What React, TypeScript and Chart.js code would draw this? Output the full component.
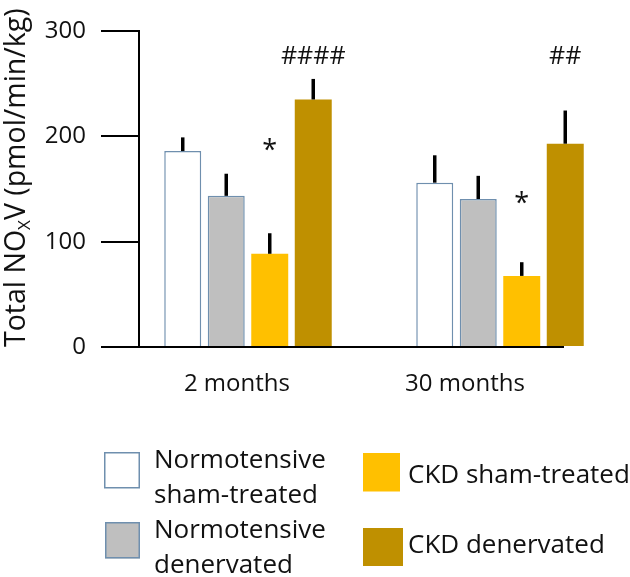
import React, { useEffect, useRef } from "react";
import { Chart, registerables } from "chart.js";

Chart.register(...registerables);

// ---------- data ----------
const CATEGORIES = ["2 months", "30 months"];
const Y_TICKS = [0, 100, 200, 300];

const NORMO_SHAM = [186, 156];
const NORMO_DENERV = [143.5, 140.5];
const CKD_SHAM = [88.5, 67.5];
const CKD_DENERV = [235, 193];

const NORMO_SHAM_ERR = [13, 26];
const NORMO_DENERV_ERR = [21, 22];
const CKD_SHAM_ERR = [19.5, 13];
const CKD_DENERV_ERR = [19.5, 31.5];

const CKD_SHAM_SIG = ["*", "*"];
const CKD_SHAM_SIG_AT = [186, 135];
const CKD_DENERV_SIG = ["####", "##"];
const CKD_DENERV_SIG_AT = [275, 275];

const SERIES_NAMES = [
  ["Normotensive", "sham-treated"],
  ["Normotensive", "denervated"],
  ["CKD sham-treated"],
  ["CKD denervated"],
];

// ---------- styles ----------
const FONT = "'Open Sans', sans-serif";
const OUTLINE = "#6f8fae";

const LEGEND_LAYOUT = [
  { box: [104, 452, 36, 36.5], textX: 154, baselines: [468, 503] },
  { box: [105, 522, 35, 36.5], textX: 154, baselines: [538, 573] },
  { box: [363, 453, 37, 38.5], textX: 408, baselines: [483] },
  { box: [363, 528, 40, 38], textX: 408, baselines: [553] },
];

const errorBarPlugin = {
  id: "errorBars",
  afterDatasetsDraw(chart: any) {
    const ctx = chart.ctx;
    const y = chart.scales.y;
    chart.data.datasets.forEach((ds: any, i: number) => {
      const meta = chart.getDatasetMeta(i);
      meta.data.forEach((el: any, j: number) => {
        const top = y.getPixelForValue(ds.data[j].y + ds.errors[j]);
        ctx.save();
        ctx.strokeStyle = "#000";
        ctx.lineWidth = 3.5;
        ctx.beginPath();
        ctx.moveTo(el.x, el.y);
        ctx.lineTo(el.x, top);
        ctx.stroke();
        ctx.restore();
      });
    });
  },
};

const sigPlugin = {
  id: "sigMarks",
  afterDatasetsDraw(chart: any) {
    const ctx = chart.ctx;
    const y = chart.scales.y;
    chart.data.datasets.forEach((ds: any, i: number) => {
      if (!ds.sig) return;
      const meta = chart.getDatasetMeta(i);
      meta.data.forEach((el: any, j: number) => {
        const txt = ds.sig[j];
        ctx.save();
        ctx.fillStyle = "#111";
        ctx.font = txt === "*" ? `27px ${FONT}` : `25px ${FONT}`;
        ctx.textAlign = "center";
        ctx.textBaseline = "middle";
        ctx.fillText(txt, el.x, y.getPixelForValue(ds.sigAt[j]));
        ctx.restore();
      });
    });
  },
};

const yTitlePlugin = {
  id: "yTitle",
  afterDraw(chart: any) {
    const ctx = chart.ctx;
    ctx.save();
    ctx.translate(25, 347);
    ctx.rotate(-Math.PI / 2);
    ctx.fillStyle = "#111";
    ctx.textAlign = "left";
    ctx.textBaseline = "alphabetic";
    let x = 0;
    ctx.font = `28.5px ${FONT}`;
    ctx.fillText("Total NO", x, 0);
    x += ctx.measureText("Total NO").width;
    ctx.font = `17px ${FONT}`;
    ctx.fillText("X", x, 5);
    x += ctx.measureText("X").width;
    ctx.font = `28.5px ${FONT}`;
    ctx.fillText("V (pmol/min/kg)", x, 0);
    ctx.restore();
  },
};

const legendPlugin = {
  id: "customLegend",
  afterDraw(chart: any) {
    const ctx = chart.ctx;
    chart.data.datasets.forEach((ds: any, i: number) => {
      const L = LEGEND_LAYOUT[i];
      const [bx, by, bw, bh] = L.box;
      ctx.save();
      ctx.fillStyle = ds.backgroundColor;
      ctx.fillRect(bx, by, bw, bh);
      if (ds.borderWidth > 0) {
        ctx.strokeStyle = ds.borderColor;
        ctx.lineWidth = 1.5;
        ctx.strokeRect(bx + 0.75, by + 0.75, bw - 1.5, bh - 1.5);
      }
      ctx.fillStyle = "#111";
      ctx.font = `26px ${FONT}`;
      ctx.textAlign = "left";
      ctx.textBaseline = "alphabetic";
      ds.nameLines.forEach((line: string, k: number) => {
        ctx.fillText(line, L.textX, L.baselines[k]);
      });
      ctx.restore();
    });
  },
};

// x positions (data units) where category labels sit
const LABEL_AT = [-0.044, 0.861];

export default function App() {
  const ref = useRef<HTMLCanvasElement>(null);

  useEffect(() => {
    if (!ref.current) return;
    const mk = (
      values: number[],
      errors: number[],
      names: string[],
      bg: string,
      bw: number,
      extra: any = {}
    ) => ({
      label: names.join(" "),
      nameLines: names,
      data: values.map((v, i) => ({ x: i, y: v })),
      errors,
      backgroundColor: bg,
      borderColor: OUTLINE,
      borderWidth: bw,
      borderSkipped: "start",
      categoryPercentage: 0.763,
      barPercentage: 0.85,
      clip: false,
      ...extra,
    });

    const chart = new Chart(ref.current, {
      type: "bar",
      data: {
        datasets: [
          mk(NORMO_SHAM, NORMO_SHAM_ERR, SERIES_NAMES[0], "#ffffff", 1.5),
          mk(NORMO_DENERV, NORMO_DENERV_ERR, SERIES_NAMES[1], "#bfbfbf", 1.5),
          mk(CKD_SHAM, CKD_SHAM_ERR, SERIES_NAMES[2], "#ffc000", 0, {
            sig: CKD_SHAM_SIG,
            sigAt: CKD_SHAM_SIG_AT,
          }),
          mk(CKD_DENERV, CKD_DENERV_ERR, SERIES_NAMES[3], "#bf9000", 0, {
            sig: CKD_DENERV_SIG,
            sigAt: CKD_DENERV_SIG_AT,
          }),
        ] as any,
      },
      options: {
        animation: false,
        responsive: true,
        maintainAspectRatio: false,
        layout: { padding: { left: 0, right: 67, top: 31, bottom: 0 } },
        plugins: {
          legend: { display: false },
          tooltip: { enabled: false },
          title: { display: false },
        },
        scales: {
          x: {
            type: "linear",
            offset: false,
            min: -0.4325,
            max: 1.25,
            bounds: "data",
            grid: { display: false, drawTicks: false, offset: false },
            border: { display: true, color: "#000", width: 2 },
            afterBuildTicks: (axis: any) => {
              axis.ticks = LABEL_AT.map((v) => ({ value: v }));
            },
            afterFit: (axis: any) => {
              axis.height = 230;
            },
            ticks: {
              autoSkip: false,
              maxRotation: 0,
              padding: 23,
              color: "#111",
              font: { family: FONT, size: 24 },
              callback: (_v: any, i: number) => CATEGORIES[i],
            },
          },
          y: {
            min: 0,
            max: 300,
            afterBuildTicks: (axis: any) => {
              axis.ticks = Y_TICKS.map((v) => ({ value: v }));
            },
            afterFit: (axis: any) => {
              axis.width = 139;
            },
            grid: {
              drawOnChartArea: false,
              drawTicks: true,
              tickLength: 38,
              color: "#000",
              lineWidth: 2,
            },
            border: { display: true, color: "#000", width: 2 },
            ticks: {
              padding: 15,
              color: "#111",
              font: { family: FONT, size: 24 },
            },
          },
        },
      } as any,
      plugins: [errorBarPlugin, sigPlugin, yTitlePlugin, legendPlugin],
    });
    return () => chart.destroy();
  }, []);

  return (
    <div
      style={{
        position: "fixed",
        left: 0,
        top: 0,
        width: 630,
        height: 577,
        background: "#fff",
      }}
    >
      <canvas ref={ref} />
    </div>
  );
}
